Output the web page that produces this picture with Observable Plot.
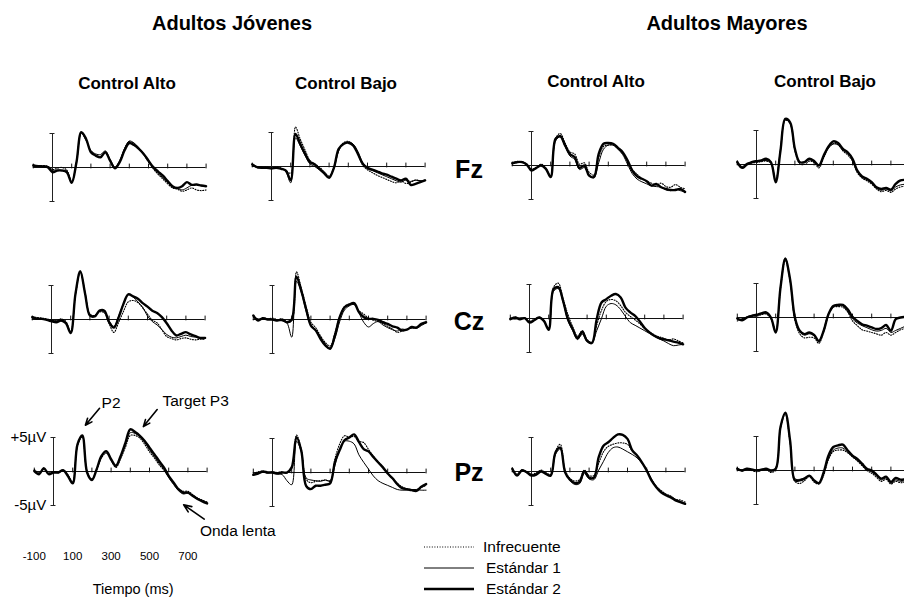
<!DOCTYPE html>
<html>
<head>
<meta charset="utf-8">
<script src="https://cdn.jsdelivr.net/npm/d3@7"></script>
<script src="https://cdn.jsdelivr.net/npm/@observablehq/plot@0.6"></script>
<style>
  html, body { margin: 0; padding: 0; background: white; overflow: hidden; }
  #chart { position: relative; width: 904px; height: 601px; overflow: hidden; font-family: "Liberation Sans", Arial, sans-serif; color: #000; }
  .lbl { position: absolute; white-space: nowrap; transform: translate(-50%, -50%); }
  .title { font-weight: bold; font-size: 20px; }
  .sub { font-weight: bold; font-size: 17px; }
  .row { font-weight: bold; font-size: 25px; }
</style>
</head>
<body>
<div id="chart"></div>
<script>
// ---------------- DATA ----------------
const groups = ["Adultos Jóvenes", "Adultos Mayores"];
const conditions = ["Control Alto", "Control Bajo"];
const sites = ["Fz", "Cz", "Pz"];
const seriesNames = ["Infrecuente", "Estándar 1", "Estándar 2"];
const times = [-100,-75,-50,-25,0,25,50,75,100,125,150,175,200,225,250,275,300,325,350,375,400,425,450,475,500,525,550,575,600,625,650,675,700,725,750,775,800];
const xTicks = [-100,100,200,300,400,500,600,700,800];
const timeTickLabels = [-100,100,300,500,700];

// Fz – Jóvenes – Control Alto
const fzJovAlto_inf = [0.4,0.2,0.3,0.2,-0.3,-0.1,0.0,-0.4,-2.2,0.7,5.1,4.1,2.4,1.8,1.6,2.2,1.1,0.0,0.9,2.7,3.8,3.5,2.8,1.9,0.8,-0.2,-1.0,-1.7,-2.4,-3.0,-3.2,-3.5,-3.3,-3.0,-3.3,-3.4,-3.3];
const fzJovAlto_e1  = [0.2,0.3,0.1,0.0,-0.4,-0.35,-0.4,-0.5,-2.1,0.9,5.0,4.0,2.5,2.0,1.9,2.45,1.2,0.1,1.0,2.8,3.9,3.6,2.9,2.0,0.9,-0.1,-0.9,-1.5,-2.2,-2.9,-3.1,-3.3,-3.0,-2.6,-2.5,-2.7,-2.8];
const fzJovAlto_e2  = [0.3,0.2,0.15,0.05,-0.7,-0.45,-0.45,-0.7,-2.25,0.8,5.2,4.2,2.25,1.75,1.5,2.25,1.0,-0.1,0.8,2.5,3.6,3.3,2.75,2.0,1.0,0.05,-0.6,-1.2,-2.0,-2.75,-3.0,-2.75,-2.15,-2.55,-2.5,-2.65,-2.75];
// Fz – Jóvenes – Control Bajo
const fzJovBajo_inf = [0.3,0.0,-0.2,-0.1,-0.3,-0.1,-0.2,-0.6,-1.0,5.8,4.0,2.4,0.9,0.4,-0.1,-0.8,-1.4,-0.1,2.4,3.5,3.7,3.2,1.9,0.2,-0.5,-0.9,-1.3,-1.6,-1.9,-2.2,-2.4,-2.1,-2.5,-2.3,-2.0,-2.1,-2.0];
const fzJovBajo_e1  = [0.4,-0.2,-0.1,-0.25,-0.2,-0.3,-0.3,-0.8,-2.4,4.2,3.0,1.6,0.4,0.0,-0.5,-1.1,-1.6,-0.3,2.3,3.4,3.6,3.3,2.2,0.6,-0.3,-0.6,-0.9,-1.2,-1.5,-1.8,-2.1,-2.3,-2.0,-2.2,-2.0,-2.1,-2.0];
const fzJovBajo_e2  = [0.3,-0.1,-0.2,-0.2,-0.3,-0.2,-0.35,-0.6,-2.0,4.8,3.3,1.85,0.65,0.3,-0.35,-1.0,-1.65,-0.2,2.6,3.3,3.5,3.1,1.85,0.4,-0.2,-0.45,-0.7,-1.0,-1.2,-1.5,-1.8,-2.05,-1.8,-2.7,-2.55,-2.3,-2.05];
// Fz – Mayores – Control Alto
const fzMayAlto_inf = [0.3,0.6,0.5,0.1,-0.5,-0.3,0.2,-0.4,-1.5,4.0,4.7,3.3,2.0,1.7,0.2,0.4,-1.0,-1.4,1.2,2.8,3.0,3.0,2.5,1.8,0.6,-0.6,-1.3,-1.9,-2.3,-2.6,-2.9,-2.6,-3.1,-3.2,-2.8,-3.2,-3.4];
const fzMayAlto_e1  = [0.2,0.4,0.6,0.2,-0.6,-0.4,0.1,-0.4,-1.6,3.6,4.2,2.8,1.4,0.9,-0.6,-0.3,-1.4,-1.8,0.4,2.4,3.0,3.0,2.4,1.6,0.2,-1.2,-2.0,-2.4,-2.7,-3.0,-3.1,-3.2,-3.6,-3.7,-3.5,-3.7,-3.9];
const fzMayAlto_e2  = [0.35,0.5,0.5,0.15,-0.75,-0.35,0.0,-0.5,-1.7,3.9,4.3,2.95,1.7,1.2,-0.35,0.0,-1.5,-1.7,1.7,3.2,3.3,3.2,2.6,1.95,0.75,-0.75,-1.6,-1.95,-2.3,-2.95,-2.7,-3.2,-3.45,-3.6,-3.6,-3.45,-3.9];
// Fz – Mayores – Control Bajo
const fzMayBajo_inf = [0.5,-0.4,0.1,0.2,0.3,0.4,0.5,0.2,-2.4,2.1,6.5,6.1,2.0,0.1,0.0,0.5,0.3,-0.5,1.0,2.5,3.1,2.9,2.0,1.4,0.5,-1.2,-2.0,-2.4,-2.9,-3.6,-4.0,-3.8,-4.1,-3.6,-3.3,-3.2,-3.1];
const fzMayBajo_e1  = [0.2,-0.3,0.2,0.3,0.4,0.5,0.6,0.3,-2.3,2.3,6.6,6.0,2.2,0.4,0.3,0.7,0.4,-0.2,1.1,2.4,3.0,2.9,2.1,1.6,0.7,-1.0,-1.9,-2.2,-2.8,-3.5,-3.8,-3.6,-3.9,-3.3,-3.0,-2.9,-2.8];
const fzMayBajo_e2  = [0.35,-0.5,0.0,0.35,0.5,0.6,0.85,0.35,-2.6,2.05,6.7,6.2,2.3,0.35,0.35,0.85,0.5,-0.15,1.3,2.65,3.4,3.15,2.3,1.8,0.85,-0.9,-1.75,-2.1,-2.6,-3.35,-3.6,-3.45,-3.7,-2.85,-2.35,-2.25,-2.2];

// Cz – Jóvenes – Control Alto
const czJovAlto_inf = [0.4,0.3,0.2,0.1,-0.1,-0.2,0.1,-0.3,-1.8,3.6,6.9,3.9,0.8,0.6,1.1,1.0,-0.6,-1.9,-0.4,1.2,2.6,2.8,2.5,1.7,0.8,-0.1,-0.5,-1.5,-2.5,-2.8,-3.0,-2.8,-2.7,-2.9,-3.0,-2.9,-2.9];
const czJovAlto_e1  = [0.2,0.2,0.0,0.0,-0.1,-0.2,0.0,-0.4,-1.9,3.7,7.0,3.9,0.7,0.6,1.2,1.2,-0.2,-1.0,0.5,2.4,3.7,3.3,2.6,1.8,0.5,-0.3,-0.8,-1.5,-2.2,-2.6,-2.7,-2.5,-2.3,-2.5,-2.6,-2.8,-2.8];
const czJovAlto_e2  = [0.35,0.1,0.1,-0.05,-0.25,-0.4,-0.15,-0.55,-2.0,3.8,7.1,3.8,0.6,0.45,1.3,1.3,-0.4,-1.2,0.35,2.3,3.7,3.4,3.05,2.4,1.9,1.3,0.95,0.35,-0.55,-1.6,-2.35,-2.1,-1.85,-2.2,-2.45,-2.7,-2.7];
// Cz – Jóvenes – Control Bajo
const czJovBajo_inf = [0.5,0.0,0.3,0.1,0.2,0.0,0.1,-0.3,-0.2,7.0,4.6,1.9,-0.4,-1.2,-2.4,-3.4,-3.9,-2.0,0.5,1.9,2.3,2.3,1.3,0.8,0.2,-0.1,-0.3,-0.6,-1.0,-1.4,-1.9,-1.7,-1.4,-1.3,-1.1,-0.7,-0.5];
const czJovBajo_e1  = [0.3,0.1,0.0,0.1,0.0,-0.1,-0.2,-0.5,-2.6,5.6,4.0,1.2,-0.8,-1.5,-2.6,-3.6,-4.2,-2.8,-0.3,1.4,2.0,2.2,1.0,-0.4,-1.1,-0.6,-0.3,-0.8,-1.2,-1.5,-1.7,-1.4,-1.5,-1.2,-1.3,-0.9,-0.5];
const czJovBajo_e2  = [0.6,-0.15,0.2,0.0,0.0,-0.15,-0.05,-0.4,0.0,6.3,4.25,1.55,-0.9,-1.6,-2.85,-3.8,-4.3,-2.35,0.35,1.8,2.2,2.4,1.1,0.35,0.1,0.1,-0.05,-0.4,-0.65,-1.0,-1.2,-1.6,-1.5,-1.1,-1.2,-0.65,-0.4];
// Cz – Mayores – Control Alto
const czMayAlto_inf = [0.0,0.2,0.0,0.1,-0.4,-0.1,0.2,-0.3,-1.4,4.6,5.2,2.9,0.6,-1.2,-2.6,-1.8,-3.1,-3.5,-1.0,1.2,2.5,2.8,2.6,1.9,0.9,0.3,-0.2,-0.8,-1.5,-2.0,-2.4,-2.7,-2.9,-3.2,-3.0,-3.3,-3.6];
const czMayAlto_e1  = [0.1,-0.1,0.1,0.0,-0.5,-0.2,0.1,-0.4,-1.5,4.0,4.4,2.4,-0.3,-1.8,-3.1,-2.3,-3.4,-3.6,-1.8,0.0,1.8,2.2,2.0,1.3,0.3,-0.6,-1.0,-1.4,-1.8,-2.2,-2.6,-3.0,-3.3,-3.7,-4.0,-3.9,-3.8];
const czMayAlto_e2  = [-0.1,0.15,-0.1,0.05,-0.6,-0.25,0.15,-0.35,-1.65,4.3,4.6,2.6,-0.1,-1.55,-2.9,-1.95,-3.3,-3.6,-0.1,2.35,2.85,3.35,3.6,3.1,1.6,0.9,0.4,-0.45,-1.4,-2.05,-2.55,-2.9,-3.05,-3.2,-3.4,-3.55,-3.8];
// Cz – Mayores – Control Bajo
const czMayBajo_inf = [-0.5,-0.2,0.0,0.2,0.2,0.4,0.5,-0.2,-2.0,4.2,8.4,5.4,-0.4,-2.4,-3.0,-2.9,-3.0,-3.8,-2.1,0.3,1.5,1.6,1.5,0.8,-0.5,-1.2,-1.8,-2.0,-2.2,-2.4,-2.6,-2.2,-2.6,-2.2,-1.8,-1.6,-1.5];
const czMayBajo_e1  = [-0.3,-0.2,0.1,0.3,0.3,0.5,0.6,-0.1,-2.1,4.6,8.8,5.4,-0.2,-2.1,-2.6,-2.4,-2.7,-3.6,-1.8,0.6,1.6,1.7,1.7,0.9,-0.2,-0.8,-1.2,-1.5,-1.8,-2.0,-1.9,-1.6,-2.2,-1.9,-1.6,-1.3,-1.2];
const czMayBajo_e2  = [-0.15,-0.4,0.0,0.25,0.4,0.6,0.75,0.0,-2.2,4.4,8.6,5.6,0.0,-1.95,-2.45,-2.2,-2.55,-3.45,-1.95,0.5,1.7,1.85,1.85,1.2,0.1,-0.5,-1.0,-1.2,-1.45,-1.7,-1.55,-1.1,-1.95,-0.25,0.0,0.1,0.1];

// Pz – Jóvenes – Control Alto
const pzJovAlto_inf = [0.3,-0.2,0.3,-0.2,0.0,-0.1,0.2,-0.5,-1.5,3.8,5.1,0.0,-1.1,0.2,2.0,2.7,1.6,0.6,1.9,3.6,5.3,5.3,4.9,4.0,2.9,2.0,1.0,0.2,-0.8,-1.7,-2.5,-2.9,-2.9,-3.4,-3.9,-4.2,-4.5];
const pzJovAlto_e1  = [0.0,-0.3,0.4,-0.3,-0.1,-0.2,0.1,-0.6,-1.7,3.9,5.2,-0.1,-1.2,0.3,2.2,2.9,1.7,0.7,2.1,4.0,5.7,5.6,5.1,4.3,3.2,2.2,1.2,0.3,-0.9,-1.9,-2.8,-3.3,-3.2,-3.5,-3.9,-4.3,-4.6];
const pzJovAlto_e2  = [0.1,-0.4,0.5,-0.4,-0.15,-0.15,0.2,-0.65,-1.75,4.0,5.3,-0.15,-1.25,0.35,2.3,3.0,1.8,0.85,2.3,4.25,6.2,5.8,5.25,4.5,3.5,2.55,1.55,0.6,-0.65,-1.6,-2.6,-3.1,-3.1,-3.6,-4.05,-4.4,-4.7];
// Pz – Jóvenes – Control Bajo
const pzJovBajo_inf = [-0.2,0.1,0.2,0.0,0.1,0.0,0.1,-0.1,0.6,5.5,3.4,-1.0,-1.5,-1.3,-1.2,-1.1,-1.3,2.0,4.2,5.4,5.2,5.3,4.6,4.4,3.4,2.4,1.6,0.8,-0.1,-0.9,-1.6,-2.1,-2.4,-2.5,-2.5,-2.2,-1.9];
const pzJovBajo_e1  = [-0.3,0.0,0.1,-0.1,0.0,-0.2,-0.3,-1.2,-1.8,4.6,3.0,-0.8,-1.1,-1.2,-1.3,-1.1,-1.2,1.0,3.5,4.6,4.6,4.2,2.6,1.5,0.5,-0.5,-1.2,-1.6,-1.9,-2.2,-2.5,-2.6,-2.6,-2.5,-2.5,-2.6,-2.6];
const pzJovBajo_e2  = [-0.35,-0.15,0.15,0.0,0.0,-0.15,0.0,0.0,0.75,5.2,3.2,-1.95,-2.45,-1.95,-1.95,-1.8,-1.6,1.5,3.3,4.75,5.15,5.6,4.5,3.45,3.1,2.3,1.5,0.75,-0.15,-0.85,-1.7,-2.3,-2.45,-2.6,-2.7,-2.1,-1.7];
// Pz – Mayores – Control Alto
const pzMayAlto_inf = [0.5,-0.5,0.2,0.0,-0.4,-0.2,0.2,-0.2,-0.4,3.0,4.0,0.2,-1.0,-1.4,-1.2,0.2,-0.6,-0.6,1.2,2.9,3.7,4.0,4.2,4.2,4.0,3.0,2.3,1.3,0.3,-1.2,-2.2,-2.8,-3.3,-3.6,-4.1,-4.2,-4.5];
const pzMayAlto_e1  = [0.2,-0.4,0.3,-0.2,-0.5,-0.3,0.1,-0.3,-0.5,2.5,3.3,0.0,-1.3,-1.9,-1.8,-0.3,-1.1,-1.2,0.2,1.5,2.8,3.5,3.6,3.3,2.9,2.5,2.0,1.2,0.2,-1.1,-2.2,-3.0,-3.4,-3.7,-4.1,-4.4,-4.7];
const pzMayAlto_e2  = [0.4,-0.6,0.15,-0.1,-0.6,-0.45,0.0,-0.35,-0.6,2.8,3.5,-0.1,-1.2,-1.7,-1.55,0.05,-0.9,-0.9,2.1,3.8,4.3,4.95,5.45,5.4,4.8,3.1,2.35,1.35,0.15,-1.3,-2.3,-3.05,-3.5,-3.8,-4.25,-4.5,-4.75];
// Pz – Mayores – Control Bajo
const pzMayBajo_inf = [0.4,-0.1,0.2,0.0,-0.2,0.0,0.2,-0.3,0.1,6.2,8.3,4.0,-1.6,-1.9,-1.5,-0.9,-1.7,-2.0,-0.7,1.6,2.8,3.0,3.0,2.6,2.0,1.4,0.7,0.0,-0.4,-1.0,-1.6,-1.3,-2.0,-1.6,-1.8,-1.7,-1.7];
const pzMayBajo_e1  = [0.1,0.1,0.3,0.1,0.1,0.2,0.2,-0.1,0.2,6.3,8.4,4.2,-1.2,-1.3,-1.1,-0.8,-1.6,-1.9,-0.5,1.8,3.0,3.3,3.3,2.7,2.0,1.5,0.8,0.1,-0.2,-0.8,-1.4,-1.1,-1.9,-1.4,-1.6,-1.5,-1.5];
const pzMayBajo_e2  = [0.25,0.0,0.25,0.15,0.0,0.1,0.25,0.0,0.25,6.4,8.5,4.4,-1.45,-1.45,-1.2,-0.75,-1.45,-1.85,-0.25,2.2,3.45,3.7,3.8,2.95,2.2,1.7,1.0,0.25,0.0,-0.6,-1.2,-0.9,-1.7,-1.1,-1.35,-1.3,-1.3];

// annotations on the Pz / Jóvenes / Control Alto panel (data space: ms, µV)
const annotLabels = ["P2", "Target P3", "Onda lenta"];
const annotLabelT = [300, 740, 960];
const annotLabelV = [10.1, 10.3, -8.7];
const arrowFromT = [240, 540, 785];
const arrowFromV = [9.3, 9.1, -7.0];
const arrowToT = [166, 468, 678];
const arrowToV = [6.8, 6.6, -4.9];
const scaleLabels = ["+5µV", "-5µV"];
const scaleLabelV = [5, -5];
const timeAxisTitle = "Tiempo (ms)";

// ---------------- LAYOUT ----------------
const chart = document.getElementById("chart");
const FONT = '"Liberation Sans", Arial, sans-serif';
const PX100 = 19.2;   // px per 100 ms
const PXUV = 6.8;     // px per µV
const W = 230, H = 250, OX = 40, OY = 100;

const panelLayout = [
  // [site, group, condition, x of 0 ms, y of 0 µV]
  ["Fz", 0, 0, 52, 167], ["Fz", 0, 1, 271, 166], ["Fz", 1, 0, 531, 165], ["Fz", 1, 1, 756, 164],
  ["Cz", 0, 0, 51, 319], ["Cz", 0, 1, 272, 319], ["Cz", 1, 0, 529, 318], ["Cz", 1, 1, 756, 317],
  ["Pz", 0, 0, 53, 471], ["Pz", 0, 1, 272, 472], ["Pz", 1, 0, 531, 471], ["Pz", 1, 1, 756, 470]
];
const seriesBy = {
  "Fz00": [fzJovAlto_inf, fzJovAlto_e1, fzJovAlto_e2], "Fz01": [fzJovBajo_inf, fzJovBajo_e1, fzJovBajo_e2],
  "Fz10": [fzMayAlto_inf, fzMayAlto_e1, fzMayAlto_e2], "Fz11": [fzMayBajo_inf, fzMayBajo_e1, fzMayBajo_e2],
  "Cz00": [czJovAlto_inf, czJovAlto_e1, czJovAlto_e2], "Cz01": [czJovBajo_inf, czJovBajo_e1, czJovBajo_e2],
  "Cz10": [czMayAlto_inf, czMayAlto_e1, czMayAlto_e2], "Cz11": [czMayBajo_inf, czMayBajo_e1, czMayBajo_e2],
  "Pz00": [pzJovAlto_inf, pzJovAlto_e1, pzJovAlto_e2], "Pz01": [pzJovBajo_inf, pzJovBajo_e1, pzJovBajo_e2],
  "Pz10": [pzMayAlto_inf, pzMayAlto_e1, pzMayAlto_e2], "Pz11": [pzMayBajo_inf, pzMayBajo_e1, pzMayBajo_e2]
};
const lineStyles = [
  {strokeWidth: 1.1, strokeDasharray: "1,1.6"},
  {strokeWidth: 1.0},
  {strokeWidth: 2.4}
];

for (const [site, g, c, x0, b] of panelLayout) {
  const vals = seriesBy[site + g + c];
  const rows = seriesNames.map((name, k) => times.map((t, i) => ({t, v: vals[k][i], s: name})));
  const marks = [
    Plot.ruleY([0], {x1: -100, x2: 800, stroke: "#111", strokeWidth: 1}),
    Plot.ruleX(xTicks, {x: d => d, y1: -0.2, y2: 0.5, stroke: "#111", strokeWidth: 1}),
    Plot.ruleX([0], {y1: -5, y2: 5, stroke: "#222", strokeWidth: 1}),
    Plot.ruleY([-5, 5], {x1: -13, x2: 13, stroke: "#222", strokeWidth: 1}),
    ...rows.map((r, k) => Plot.line(r, {x: "t", y: "v", curve: "catmull-rom", stroke: "#000", ...lineStyles[k]}))
  ];
  if (site === "Pz" && g === 0 && c === 0) {
    const arrows = annotLabels.map((_, i) => ({x1: arrowFromT[i], y1: arrowFromV[i], x2: arrowToT[i], y2: arrowToV[i]}));
    const labels = annotLabels.map((text, i) => ({text, t: annotLabelT[i], v: annotLabelV[i]}));
    marks.push(
      Plot.arrow(arrows, {x1: "x1", y1: "y1", x2: "x2", y2: "y2", stroke: "#000", strokeWidth: 1.6, headLength: 8, headAngle: 45}),
      Plot.text(labels, {x: "t", y: "v", text: "text", fontSize: 15.5, fill: "#000"}),
      Plot.text(scaleLabels, {x: -38, y: (d, i) => scaleLabelV[i], text: d => d, textAnchor: "end", fontSize: 15, fill: "#000"}),
      Plot.text(timeTickLabels, {x: d => d, y: -12.5, text: d => String(d), fontSize: 11.5, fill: "#000"}),
      Plot.text([timeAxisTitle], {x: 415, y: -17.4, text: d => d, fontSize: 14.5, fill: "#000"})
    );
  }
  const svg = Plot.plot({
    width: W, height: H, margin: 0,
    x: {domain: [-100, 800], range: [OX - PX100, OX + 8 * PX100], axis: null},
    y: {domain: [-5, 5], range: [OY + 5 * PXUV, OY - 5 * PXUV], axis: null},
    style: {background: "transparent", overflow: "visible", fontFamily: FONT},
    marks
  });
  svg.style.position = "absolute";
  svg.style.left = (x0 - OX) + "px";
  svg.style.top = (b - OY) + "px";
  svg.style.maxWidth = "none";
  chart.appendChild(svg);
}

// titles
function addLabel(text, cls, x, y) {
  const d = document.createElement("div");
  d.className = "lbl " + cls;
  d.textContent = text;
  d.style.left = x + "px";
  d.style.top = y + "px";
  chart.appendChild(d);
}
const groupX = [232, 727];
groups.forEach((gname, i) => addLabel(gname, "title", groupX[i], 23));
const subX = [127, 346, 596, 825];
const subY = [84, 84, 82, 82];
subX.forEach((x, i) => addLabel(conditions[i % 2], "sub", x, subY[i]));
const siteY = [169, 321, 472];
sites.forEach((s, i) => addLabel(s, "row", 469, siteY[i]));

// legend
const legendSvg = d3.create("svg").attr("width", 200).attr("height", 70)
  .style("position", "absolute").style("left", "420px").style("top", "535px");
seriesNames.forEach((name, k) => {
  const y = 12 + k * 21;
  const ln = legendSvg.append("line").attr("x1", 4).attr("x2", 54).attr("y1", y).attr("y2", y)
    .attr("stroke", "#000").attr("stroke-width", lineStyles[k].strokeWidth);
  if (lineStyles[k].strokeDasharray) ln.attr("stroke-dasharray", lineStyles[k].strokeDasharray);
  legendSvg.append("text").attr("x", k === 0 ? 63 : 66).attr("y", y).attr("dy", "0.35em")
    .attr("font-family", FONT).attr("font-size", 15.5).text(name);
});
chart.appendChild(legendSvg.node());
</script>
</body>
</html>
